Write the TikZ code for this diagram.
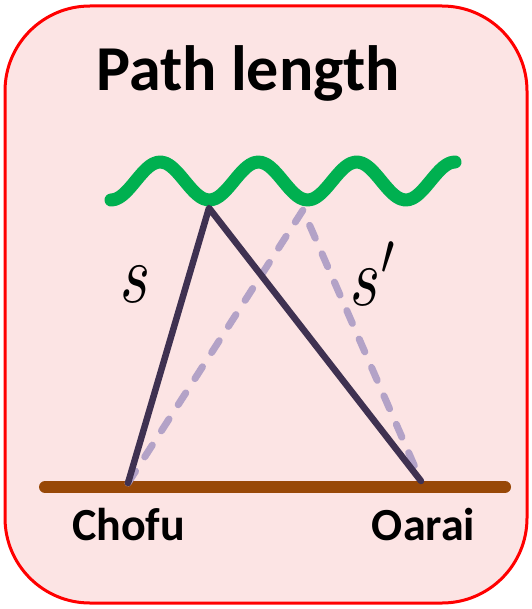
\documentclass[tikz,border=0pt]{standalone}
\usepackage{graphicx}
\usepackage{fontspec}
\setmainfont{Carlito}
\usetikzlibrary{positioning,calc}
\definecolor{boxred}{HTML}{FF0000}
\definecolor{boxpink}{HTML}{FCE4E4}
\definecolor{wavegreen}{HTML}{00B050}
\definecolor{pathdark}{HTML}{3F3151}
\definecolor{pathlight}{HTML}{B3A2C7}
\definecolor{ground}{HTML}{984807}
\newcommand{\bigvar}[1]{\scalebox{6.4}[8.4]{$#1$}}
\tikzset{
  panel/.style={draw=boxred, fill=boxpink, line width=3pt, rounded corners=85pt},
  wave/.style={draw=wavegreen, line width=13pt, line cap=round, line join=round},
  groundline/.style={draw=ground, line width=12pt, line cap=round},
  rayline/.style={draw=pathdark, line width=6.5pt, line cap=round, line join=round},
  raydash/.style={draw=pathlight, line width=7pt, line cap=round,
    dash pattern=on 14pt off 17pt},
  titlelabel/.style={font=\fontsize{64}{70}\selectfont\bfseries, inner sep=0pt, anchor=base},
  sitelabel/.style={font=\fontsize{46}{50}\selectfont\bfseries, inner sep=0pt, anchor=base},
  varlabel/.style={inner sep=0pt, anchor=base},
}
\begin{document}
\begin{tikzpicture}[x=1pt,y=-1pt]
  \useasboundingbox (0,0) rectangle (531,609);
  % frame
  \path[panel] (5,6) rectangle (527,603);
  \node[titlelabel] (title) at (248,91) {Path length};

  % ionosphere wave
  \draw[wave] plot[domain=111:455, samples=90, smooth]
    (\x, {181 + 19*cos(3.6623*(\x-111))});

  % ground and stations
  \coordinate (gl) at (45,487);
  \coordinate (gr) at (505,487);
  \draw[groundline] (gl) -- (gr);
  \coordinate (chofu) at (128,483);
  \coordinate (oarai) at (421,481);
  \coordinate (apexA) at (209,208);
  \coordinate (apexB) at (303,210);

  % reflected paths
  \draw[raydash] (chofu) -- (apexB) -- (oarai);
  \draw[rayline] (chofu) -- (apexA) -- (oarai);

  \node[sitelabel] (chofulbl) at (128.5,540) {Chofu};
  \node[sitelabel] (oarailbl) at (423.5,540) {Oarai};
  \node[varlabel] (s) at (135,302) {\bigvar{s}};
  \node[varlabel, anchor=base west] (sp) at (350,305) {\bigvar{s'}};
\end{tikzpicture}
\end{document}
